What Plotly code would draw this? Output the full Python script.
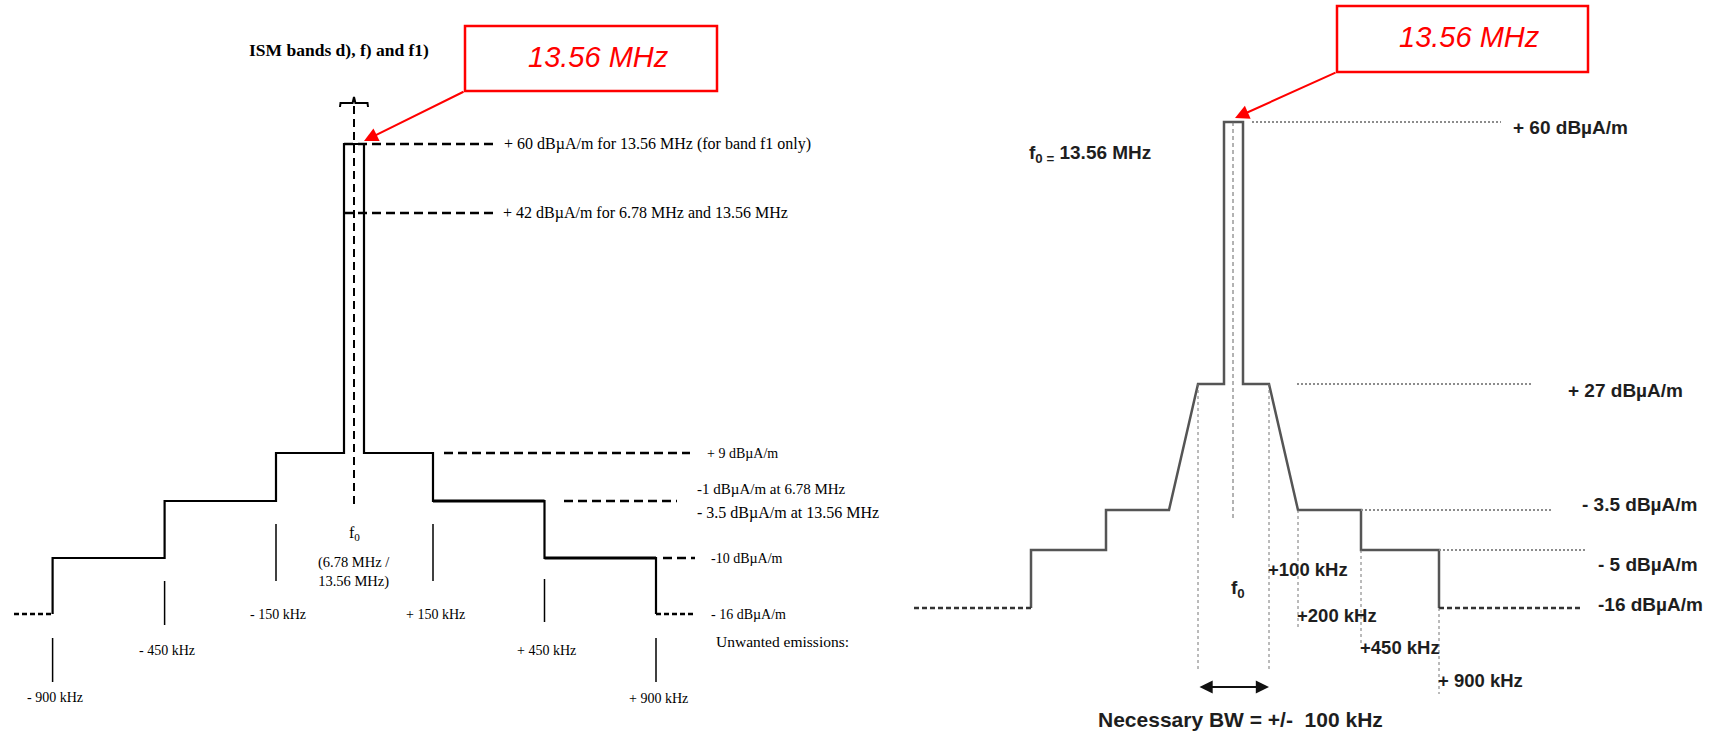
import numpy as np
import plotly.graph_objects as go

# ---------------- DATA ----------------
# Left diagram: ISM bands d), f) and f1)  (offsets in kHz, levels in dBuA/m)
L_STEP_OFFSETS = [-900, -900, -450, -450, -150, -150, -7, -7, 7, 7, 150, 150, 450, 450, 900, 900]
L_STEP_LEVELS = [-16, -10, -10, -3.5, -3.5, 9, 9, 60, 60, 9, 9, -3.5, -3.5, -10, -10, -16]
L_TICK_OFFSETS = [-900, -450, -150, 150, 450, 900]
L_TICK_LABELS = ["- 900 kHz", "- 450 kHz", "- 150 kHz", "+ 150 kHz", "+ 450 kHz", "+ 900 kHz"]
L_REF_LEVELS = [60, 42, 9, -3.5, -10, -16]
L_REF_LABELS = ["+ 60 dBµA/m for 13.56 MHz (for band f1 only)",
                "+ 42 dBµA/m for 6.78 MHz and 13.56 MHz",
                "+ 9 dBµA/m",
                "-1 dBµA/m at 6.78 MHz<br>- 3.5 dBµA/m at 13.56 MHz",
                "-10 dBµA/m",
                "- 16 dBµA/m"]

# Right diagram: 13.56 MHz
R_STEP_OFFSETS = [-900, -900, -450, -450, -200, -100, -7, -7, 7, 7, 100, 200, 450, 450, 900, 900]
R_STEP_LEVELS = [-16, -5, -5, -3.5, -3.5, 27, 27, 60, 60, 27, 27, -3.5, -3.5, -5, -5, -16]
R_GUIDE_OFFSETS = [-100, 100, 200, 450, 900]
R_GUIDE_LABELS = ["", "+100 kHz", "+200 kHz", "+450 kHz", "+ 900 kHz"]
R_REF_LEVELS = [60, 27, -3.5, -5, -16]
R_REF_LABELS = ["+ 60 dBµA/m", "+ 27 dBµA/m", "- 3.5 dBµA/m", "- 5 dBµA/m", "-16 dBµA/m"]

# ---------------- SCHEMATIC GEOMETRY (not to scale) ----------------
L_XA_K = [-1200, -900, -450, -150, -15, -7, 0, 7, 15, 150, 450, 900, 1200]
L_XA_P = [14, 52.6, 164.6, 276, 340, 344, 354, 364, 368, 433, 544.5, 656, 695]
L_YA_D = [-16, -10, -3.5, 9, 42, 60]
L_YA_P = [614, 558, 501, 453, 213, 144]

R_XA_K = [-1200, -900, -450, -200, -100, -7, 0, 7, 100, 200, 450, 900, 1200]
R_XA_P = [914, 1031, 1106, 1169, 1198, 1224, 1233, 1243, 1269, 1298, 1361, 1439, 1583]
R_YA_D = [-16, -5, -3.5, 27, 60]
R_YA_P = [608, 550, 510, 384, 122]


def lx(k): return np.interp(k, L_XA_K, L_XA_P)
def ly(d): return np.interp(d, L_YA_D, L_YA_P)
def rx(k): return np.interp(k, R_XA_K, R_XA_P)
def ry(d): return np.interp(d, R_YA_D, R_YA_P)


fig = go.Figure()


def line(xs, ys, color="black", width=2, dash="solid", shape="linear"):
    fig.add_trace(go.Scatter(x=list(xs), y=list(ys), mode="lines", showlegend=False,
                             hoverinfo="skip",
                             line=dict(color=color, width=width, dash=dash, shape=shape)))


anns = []


def text(x, y, t, size, family, xanchor="left", color="black", bold=False, italic=False, yanchor="middle"):
    if bold:
        t = "<b>" + t + "</b>"
    if italic:
        t = "<i>" + t + "</i>"
    anns.append(dict(x=x, y=y, xref="x", yref="y", text=t, showarrow=False,
                     xanchor=xanchor, yanchor=yanchor, align="center" if xanchor == "center" else "left",
                     font=dict(size=size, family=family, color=color)))


SERIF = "Liberation Serif, Times New Roman, serif"
SANS = "Liberation Sans, Arial, sans-serif"

# ======== LEFT DIAGRAM ========
line(lx(np.array(L_STEP_OFFSETS)), ly(np.array(L_STEP_LEVELS)), width=2.2)
# slightly heavier lower-right steps as in the original drawing
line(lx(np.array([150, 450])), ly(np.array([-3.5, -3.5])), width=3)
line(lx(np.array([450, 900])), ly(np.array([-10, -10])), width=3)
# out-of-band dashed extensions
line(lx(np.array([-1200, -900])), ly(np.array([-16, -16])), width=2.5, dash="5px,3px")
line(lx(np.array([900, 1200])), ly(np.array([-16, -16])), width=2.5, dash="5px,3px")
# center dashed line f0
line([lx(0), lx(0)], [106, 507], width=2, dash="8px,5px")
# brace above band
bx = lx(np.array([-15, -14, -1, 0, 1, 14, 15]))
line(bx, [107, 103, 103, 97, 103, 103, 107], width=2)
# reference dashed lines
L_REF_SPANS = [(lx(-7), 496), (lx(-7), 493), (444, 690), (564, 677), (663, 695)]
for (x0, x1), lev in zip(L_REF_SPANS, L_REF_LEVELS[:5]):
    line([x0, x1], [ly(lev), ly(lev)], width=2.5, dash="9px,5px")
# reference labels
L_LABEL_POS = [(502, ly(60)), (501, ly(42)), (705, ly(9)), (695, 501), (709, ly(-10)), (709, ly(-16))]
L_LABEL_SIZE = [16, 16, 14, 15, 14, 14]
for (x, y), lab, sz in zip(L_LABEL_POS, L_REF_LABELS, L_LABEL_SIZE):
    if "<br>" in lab:
        a, b = lab.split("<br>")
        text(x, 489, a, 15, SERIF)
        text(x, 513, b, 16, SERIF)
    else:
        text(x, y, lab, sz, SERIF)
text(714, 641, "Unwanted emissions:", 15.5, SERIF)
# tick marks and labels
L_TICK_SPANS = [(638, 682), (581, 625), (524, 581), (524, 581), (579, 622), (638, 682)]
L_TICK_LABEL_Y = [697, 650, 614, 614, 650, 698]
for k, lab, (y0, y1), yl in zip(L_TICK_OFFSETS, L_TICK_LABELS, L_TICK_SPANS, L_TICK_LABEL_Y):
    line([lx(k), lx(k)], [y0, y1], width=1.5)
    text(lx(k) + 2, yl, lab, 14, SERIF, xanchor="center")
text(lx(0), 533, "f<sub>0</sub>", 16, SERIF, xanchor="center")
text(lx(0), 572, "(6.78 MHz /<br>13.56 MHz)", 14.5, SERIF, xanchor="center")
text(247, 50, "ISM bands d), f) and f1)", 17.5, SERIF, bold=True)

# ======== RIGHT DIAGRAM ========
GREY = "#555555"
line(rx(np.array(R_STEP_OFFSETS)), ry(np.array(R_STEP_LEVELS)), color=GREY, width=2.5)
line(rx(np.array([-1200, -900])), ry(np.array([-16, -16])), color="#333333", width=2.5, dash="5px,3px")
line(rx(np.array([900, 1200])), ry(np.array([-16, -16])), color="#333333", width=2.5, dash="5px,3px")
# center thin dashed
line([rx(0), rx(0)], [ry(60), 520], color="#666666", width=1, dash="4px,3px")
# dotted reference lines
R_REF_SPANS = [(1252, 1501), (1297, 1531), (1361, 1553), (1439, 1585)]
for (x0, x1), lev in zip(R_REF_SPANS, R_REF_LEVELS[:4]):
    line([x0, x1], [ry(lev), ry(lev)], color="#8c8c8c", width=2.2, dash="2px,2px")
R_LABEL_POS = [(1511, 127), (1566, 390), (1580, 504), (1596, 564), (1596, 604)]
for (x, y), lab in zip(R_LABEL_POS, R_REF_LABELS):
    text(x, y, lab, 19, SANS, color="#1e1e1e", bold=True)
# vertical guides
R_GUIDE_SPANS = [(ry(27), 670), (ry(27), 670), (ry(-3.5), 627), (ry(-5), 644), (ry(-16), 694)]
R_GUIDE_LABEL_Y = [0, 569, 615, 647, 680]
for k, lab, (y0, y1), yl in zip(R_GUIDE_OFFSETS, R_GUIDE_LABELS, R_GUIDE_SPANS, R_GUIDE_LABEL_Y):
    line([rx(k), rx(k)], [y0, y1], color="#777777", width=1, dash="3px,3px")
    if lab:
        text(rx(k) - 3, yl, lab, 18.5, SANS, color="#1e1e1e", bold=True)
text(rx(0) + 5, 589, "f<sub>0</sub>", 19, SANS, color="#1e1e1e", bold=True, xanchor="center")
text(1027, 154, "f<sub>0 =</sub> 13.56 MHz", 19, SANS, color="#1e1e1e", bold=True)
text(1240, 719, "Necessary BW = +/-  100 kHz", 21, SANS, color="#1e1e1e", bold=True, xanchor="center")
# BW double arrow
anns.append(dict(x=rx(100), y=687, ax=rx(-100), ay=687, xref="x", yref="y", axref="x", ayref="y",
                 text="", showarrow=True, arrowhead=2, arrowside="end+start", arrowsize=1.2,
                 arrowwidth=2.2, arrowcolor="#111111"))

# ======== RED CALLOUTS ========
RED = "#ff0000"
shapes = []
for (x0, y0, x1, y1, tx, ty, tipx, tipy) in [(465, 26, 717, 91, 598, 57, lx(7), ly(60) - 3),
                                              (1337, 6, 1588, 72, 1469, 37, rx(0) + 2, ry(60) - 4)]:
    shapes.append(dict(type="rect", xref="x", yref="y", x0=x0, y0=y0, x1=x1, y1=y1,
                       line=dict(color=RED, width=2.5), fillcolor="white", layer="above"))
    anns.append(dict(x=tx, y=ty, xref="x", yref="y", text="<i>13.56 MHz</i>", showarrow=False,
                     xanchor="center", yanchor="middle",
                     font=dict(size=29, family=SANS, color=RED)))
    anns.append(dict(x=tipx, y=tipy, ax=x0, ay=y1, xref="x", yref="y", axref="x", ayref="y",
                     text="", showarrow=True, arrowhead=2, arrowsize=1.4, arrowwidth=2,
                     arrowcolor=RED, standoff=0))

fig.update_layout(
    width=1712, height=734, margin=dict(l=0, r=0, t=0, b=0),
    paper_bgcolor="white", plot_bgcolor="white",
    xaxis=dict(range=[0, 1712], visible=False, fixedrange=True),
    yaxis=dict(range=[734, 0], visible=False, fixedrange=True),
    annotations=anns, shapes=shapes, showlegend=False,
)

fig.write_html("out.html", config={"displayModeBar": False},
               post_script="document.body.style.margin='0';")
